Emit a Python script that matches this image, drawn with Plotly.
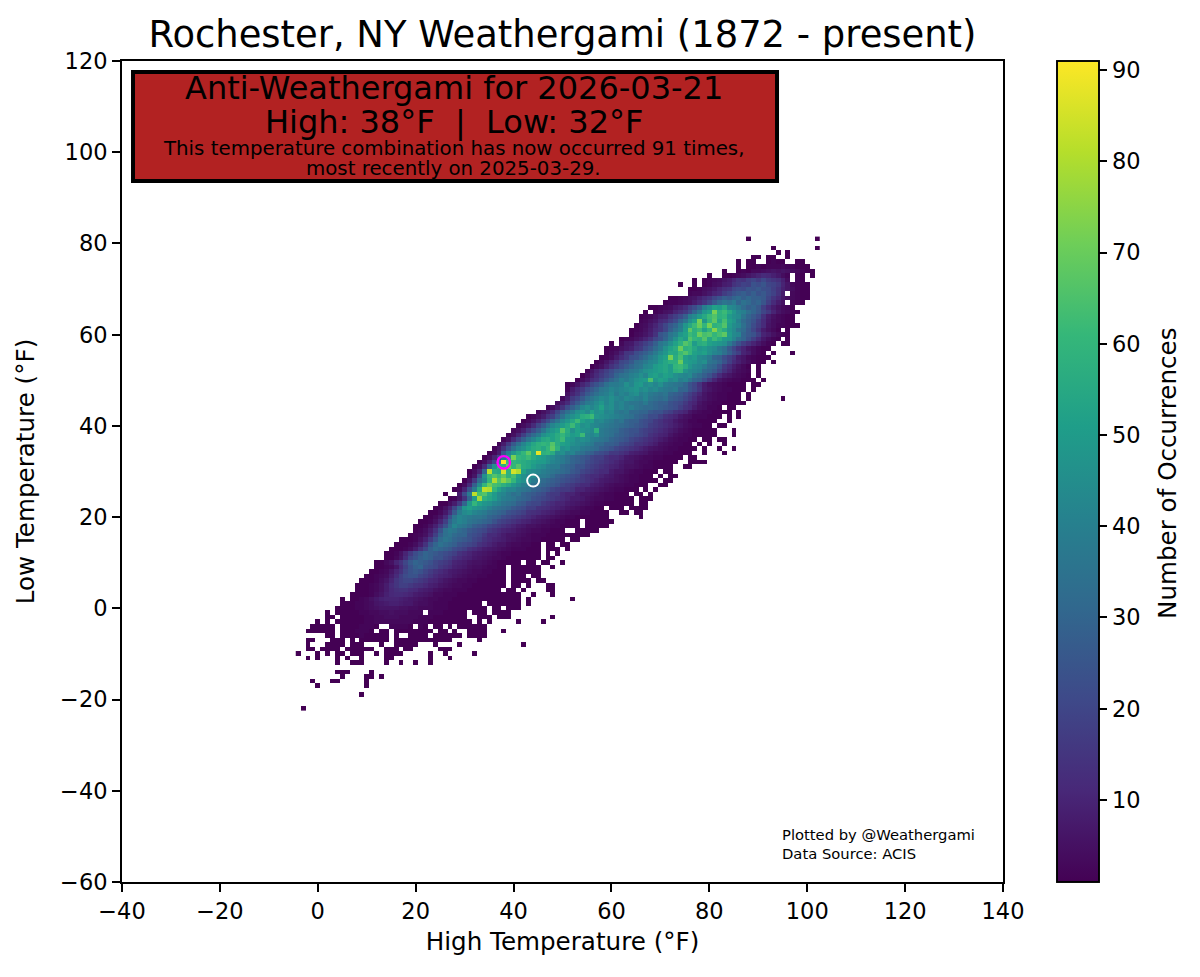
import plotly.graph_objects as go

TITLE = "Rochester, NY Weathergami (1872 - present)"
BOX_LINES = ["Anti-Weathergami for 2026-03-21", "High: 38°F  |  Low: 32°F"]
BOX_NOTE = ["This temperature combination has now occurred 91 times,", "most recently on 2025-03-29."]
CREDIT = "Plotted by @Weathergami<br>Data Source: ACIS"

# today's pair and the other marked pair
anti_high, anti_low = [38], [32]
other_high, other_low = [44], [28]

cbar_ticks = [10, 20, 30, 40, 50, 60, 70, 80, 90]
x_ticks = list(range(-40, 141, 20))
y_ticks = list(range(-60, 121, 20))
x_labels = [str(t).replace("-", "\u2212") for t in x_ticks]
y_labels = [str(t).replace("-", "\u2212") for t in y_ticks]

# low temperature of each row, top row first
lows = list(range(81, -23, -1))
# high temperature of the first cell in each row
first_high = [
    88, 88, 93, 94, 89, 86, 86, 83, 80, 77, 74, 76, 76, 72, 71, 68, 67, 66, 66, 65, 64, 64, 62, 60, 59, 59,
    58, 57, 56, 55, 54, 53, 51, 51, 51, 50, 49, 47, 45, 43, 42, 41, 40, 39, 38, 37, 36, 35, 34, 33, 32, 31,
    30, 29, 28, 27, 26, 27, 25, 24, 23, 22, 21, 20, 20, 19, 17, 16, 15, 14, 14, 12, 12, 11, 10, 9, 8, 8,
    7, 5, 5, 4, 2, 2, 0, -1, -2, 2, -2, -2, -2, -4, -2, 4, 0, 4, 5, -1, 0, 0, 9, 0, 0, -3,
]
# occurrences per cell, 0 where the pair never happened
counts = [
    [1, 0, 0, 0, 0, 0, 0, 0, 0, 0, 0, 0, 0, 0, 1],
    [],
    [1, 0, 0, 0, 0, 0, 0, 0, 0, 1],
    [1, 0, 1],
    [1, 1, 0, 1, 1, 0, 0, 1],
    [1, 0, 1, 1, 0, 0, 1, 2, 1, 1, 0, 0, 1, 1],
    [1, 0, 1, 1, 2, 1, 2, 2, 2, 3, 2, 2, 1, 1, 1],
    [1, 0, 0, 1, 2, 1, 3, 3, 4, 5, 6, 5, 6, 5, 4, 3, 2, 1, 1],
    [1, 0, 0, 1, 1, 2, 3, 4, 6, 8, 10, 12, 11, 9, 7, 4, 2, 0, 2, 1, 0, 1],
    [1, 0, 1, 2, 3, 4, 6, 8, 11, 15, 14, 18, 20, 17, 21, 17, 15, 13, 9, 4, 0, 2, 1],
    [1, 0, 0, 1, 0, 1, 2, 4, 5, 8, 9, 14, 16, 19, 18, 24, 22, 25, 20, 19, 16, 10, 6, 3, 2, 1, 1],
    [1, 1, 2, 4, 5, 7, 10, 13, 15, 20, 22, 21, 25, 24, 26, 23, 22, 18, 14, 9, 6, 4, 2, 1, 1],
    [2, 3, 3, 5, 7, 10, 12, 17, 20, 24, 26, 28, 25, 28, 24, 26, 22, 19, 14, 8, 0, 3, 2, 1, 1],
    [1, 1, 2, 3, 5, 6, 9, 12, 15, 20, 24, 28, 26, 30, 32, 28, 31, 28, 28, 26, 20, 15, 11, 7, 4, 3, 2, 1, 1],
    [1, 2, 2, 3, 4, 5, 8, 11, 15, 20, 26, 32, 36, 34, 38, 30, 35, 32, 28, 30, 25, 18, 12, 8, 5, 0, 2, 1, 1],
    [1, 1, 2, 3, 4, 7, 9, 12, 18, 22, 28, 40, 45, 52, 50, 55, 44, 42, 38, 32, 28, 30, 26, 18, 12, 8, 5, 3, 2, 1],
    [1, 0, 2, 3, 5, 6, 10, 13, 16, 22, 30, 38, 48, 52, 72, 58, 62, 55, 48, 42, 40, 34, 30, 26, 20, 16, 10, 6, 4, 3, 2, 1],
    [1, 2, 3, 5, 8, 9, 14, 18, 22, 28, 40, 44, 50, 55, 62, 66, 58, 60, 50, 46, 44, 36, 30, 26, 22, 14, 8, 5, 3, 2, 1, 1],
    [2, 3, 5, 7, 11, 13, 18, 22, 30, 36, 46, 52, 72, 48, 60, 68, 54, 64, 52, 48, 40, 32, 28, 24, 18, 12, 7, 4, 3, 2, 1, 1],
    [1, 3, 4, 7, 10, 15, 20, 26, 30, 38, 48, 55, 62, 70, 60, 72, 58, 60, 66, 50, 45, 42, 34, 28, 22, 17, 12, 6, 4, 2, 2, 1, 1, 1],
    [1, 2, 3, 5, 8, 12, 15, 20, 28, 34, 40, 50, 68, 58, 62, 52, 60, 74, 62, 56, 48, 44, 36, 32, 26, 20, 14, 8, 5, 3, 1, 0, 1],
    [1, 3, 4, 6, 9, 14, 25, 28, 36, 40, 48, 52, 62, 58, 70, 64, 66, 60, 64, 68, 50, 44, 42, 30, 26, 24, 18, 10, 8, 5, 3, 2, 1],
    [1, 2, 3, 5, 7, 10, 14, 20, 24, 30, 38, 46, 54, 50, 66, 60, 58, 66, 54, 62, 56, 50, 48, 42, 34, 30, 24, 18, 12, 7, 4, 2, 1, 0, 1],
    [1, 0, 3, 6, 7, 11, 14, 18, 22, 28, 36, 40, 46, 52, 58, 66, 62, 50, 56, 58, 52, 50, 48, 46, 38, 30, 24, 18, 14, 10, 7, 4, 2, 1, 0, 1, 1],
    [1, 2, 3, 5, 7, 9, 14, 16, 22, 26, 32, 38, 46, 52, 56, 70, 58, 60, 54, 48, 50, 46, 44, 38, 34, 26, 20, 14, 10, 6, 4, 2, 1, 1],
    [1, 3, 5, 9, 15, 16, 22, 25, 28, 32, 38, 44, 48, 55, 54, 62, 66, 60, 52, 50, 52, 46, 42, 40, 34, 28, 22, 18, 10, 8, 4, 2, 1, 0, 1, 0, 0, 0, 1],
    [1, 2, 4, 8, 12, 16, 22, 24, 28, 32, 38, 42, 48, 52, 72, 56, 64, 52, 48, 50, 44, 42, 38, 30, 28, 22, 18, 14, 8, 6, 3, 2, 1, 1, 1],
    [1, 3, 6, 10, 14, 20, 22, 26, 32, 34, 38, 42, 44, 50, 54, 58, 58, 70, 52, 50, 48, 44, 46, 36, 34, 30, 24, 18, 12, 9, 6, 4, 2, 1, 1, 0, 1],
    [1, 3, 5, 9, 14, 18, 22, 26, 30, 34, 36, 42, 44, 50, 52, 54, 50, 60, 62, 56, 48, 44, 42, 38, 32, 30, 24, 16, 12, 8, 5, 3, 1, 0, 1],
    [2, 6, 10, 14, 18, 22, 26, 28, 32, 36, 38, 42, 46, 48, 50, 52, 54, 50, 58, 60, 48, 44, 42, 40, 32, 30, 26, 20, 14, 10, 6, 4, 3, 2, 0, 1],
    [1, 4, 8, 12, 16, 20, 24, 30, 34, 36, 40, 42, 46, 42, 50, 52, 48, 52, 50, 46, 44, 42, 44, 36, 32, 28, 24, 18, 12, 8, 6, 4, 3, 2, 1, 0, 1],
    [1, 4, 7, 12, 15, 20, 25, 30, 34, 40, 38, 42, 46, 48, 50, 65, 48, 52, 50, 44, 46, 40, 42, 36, 30, 28, 22, 16, 10, 6, 4, 3, 2, 2, 1, 1, 1, 0, 1],
    [1, 3, 6, 10, 14, 20, 24, 28, 34, 38, 38, 40, 46, 42, 48, 50, 44, 46, 42, 46, 40, 38, 36, 34, 30, 24, 20, 14, 8, 5, 4, 3, 2, 1, 1, 1, 1, 0, 1, 1],
    [2, 8, 12, 16, 22, 26, 30, 36, 38, 42, 40, 42, 44, 46, 48, 44, 46, 42, 44, 40, 38, 36, 38, 30, 30, 24, 20, 15, 8, 6, 4, 3, 2, 2, 1, 1, 1, 0, 1],
    [5, 10, 14, 20, 26, 30, 34, 38, 40, 44, 38, 42, 40, 44, 46, 40, 42, 38, 36, 34, 36, 30, 28, 26, 22, 18, 14, 10, 6, 4, 3, 2, 2, 1, 1, 1, 0, 1],
    [3, 8, 16, 20, 26, 32, 36, 40, 44, 42, 46, 42, 40, 44, 42, 40, 38, 42, 36, 34, 32, 34, 28, 26, 24, 20, 16, 12, 8, 6, 4, 3, 2, 2, 1, 1, 1, 0, 1, 0, 0, 0, 0, 0, 0, 1],
    [4, 8, 12, 20, 26, 32, 38, 40, 44, 48, 42, 46, 40, 42, 38, 36, 36, 34, 38, 32, 30, 28, 28, 24, 22, 20, 16, 12, 10, 6, 4, 3, 2, 2, 1, 1, 1, 1, 1],
    [2, 4, 8, 14, 22, 28, 34, 42, 46, 42, 46, 52, 44, 46, 40, 42, 38, 40, 36, 34, 32, 32, 30, 28, 26, 24, 22, 18, 14, 12, 8, 5, 4, 2, 2, 1, 0, 1, 1],
    [2, 5, 8, 12, 20, 28, 34, 40, 46, 48, 44, 52, 46, 48, 42, 44, 38, 36, 38, 32, 32, 30, 30, 26, 24, 24, 20, 18, 14, 12, 10, 6, 4, 3, 2, 2, 1, 1, 1, 1, 0, 1],
    [1, 3, 5, 8, 14, 18, 26, 34, 42, 46, 50, 56, 58, 62, 48, 46, 44, 42, 40, 38, 36, 34, 30, 28, 26, 22, 22, 18, 14, 12, 10, 7, 5, 4, 2, 2, 2, 1, 1, 1, 0, 1, 0, 1],
    [1, 3, 6, 10, 16, 22, 30, 36, 44, 48, 54, 62, 52, 48, 50, 42, 44, 40, 38, 34, 36, 30, 28, 28, 24, 22, 20, 16, 14, 11, 10, 7, 5, 4, 2, 2, 1, 1, 1, 1, 0, 0, 1],
    [2, 4, 7, 12, 20, 26, 34, 42, 46, 50, 54, 62, 52, 46, 48, 44, 42, 40, 38, 36, 34, 32, 30, 28, 26, 24, 22, 18, 16, 14, 12, 10, 8, 6, 4, 3, 2, 2, 1, 1, 0, 1, 1],
    [3, 5, 9, 16, 22, 28, 36, 44, 48, 52, 66, 56, 46, 52, 48, 46, 44, 58, 38, 36, 34, 32, 28, 26, 24, 24, 20, 18, 16, 14, 12, 10, 8, 6, 4, 3, 2, 1, 1, 1, 1, 1, 0, 0, 0, 1],
    [2, 5, 10, 18, 26, 32, 38, 46, 50, 52, 56, 60, 54, 50, 52, 62, 44, 42, 46, 38, 36, 34, 30, 28, 26, 24, 22, 20, 18, 14, 12, 10, 9, 6, 4, 3, 2, 2, 1, 1, 1, 1, 1, 0, 0, 0, 1],
    [2, 5, 12, 20, 28, 36, 42, 48, 54, 56, 52, 56, 62, 50, 48, 44, 46, 44, 40, 38, 36, 34, 30, 28, 26, 24, 20, 18, 16, 14, 12, 10, 8, 6, 4, 3, 2, 2, 1, 1, 0, 1, 1, 0, 1, 1],
    [3, 8, 16, 26, 34, 42, 48, 54, 58, 60, 58, 66, 56, 52, 50, 46, 44, 42, 40, 38, 32, 32, 28, 28, 26, 22, 20, 18, 14, 14, 12, 10, 8, 5, 4, 3, 2, 2, 1, 1, 0, 1, 0, 1, 0, 0, 1],
    [2, 6, 14, 24, 34, 42, 46, 52, 56, 58, 54, 60, 68, 58, 46, 48, 42, 42, 38, 36, 34, 32, 28, 26, 24, 20, 18, 16, 14, 12, 10, 8, 6, 5, 4, 3, 2, 2, 1, 1, 1, 1, 0, 1, 0, 0, 1, 0, 0, 1],
    [1, 3, 8, 26, 40, 48, 54, 60, 68, 56, 88, 58, 60, 56, 44, 46, 40, 42, 36, 34, 30, 28, 24, 22, 20, 16, 16, 14, 12, 9, 8, 7, 6, 4, 3, 3, 2, 2, 1, 1, 1, 1, 0, 0, 1, 0, 0, 0, 1],
    [1, 4, 10, 20, 36, 50, 72, 60, 58, 62, 56, 52, 50, 46, 44, 40, 38, 34, 30, 28, 26, 24, 20, 18, 18, 14, 12, 12, 10, 7, 6, 5, 4, 3, 3, 2, 2, 1, 1, 1, 1, 0, 1, 1],
    [1, 4, 10, 20, 40, 91, 62, 60, 58, 56, 54, 52, 50, 50, 46, 42, 40, 38, 34, 30, 28, 26, 22, 20, 18, 16, 14, 12, 10, 8, 6, 6, 4, 3, 3, 2, 1, 1, 1, 1, 1, 0, 0, 1, 1, 1, 1],
    [1, 4, 12, 30, 46, 60, 58, 70, 60, 66, 56, 54, 50, 46, 44, 40, 38, 38, 32, 30, 28, 24, 24, 20, 18, 16, 14, 12, 10, 9, 7, 5, 5, 4, 3, 2, 2, 1, 1, 1, 1, 0, 0, 1, 1],
    [1, 4, 10, 30, 82, 56, 54, 85, 58, 85, 80, 52, 46, 44, 42, 40, 38, 36, 34, 32, 30, 26, 24, 20, 18, 16, 14, 12, 12, 8, 6, 6, 4, 3, 2, 2, 1, 1, 1, 0, 1, 1],
    [0, 2, 6, 22, 46, 62, 66, 62, 68, 58, 64, 52, 46, 42, 44, 38, 38, 36, 32, 28, 26, 24, 22, 20, 16, 14, 12, 12, 10, 8, 7, 5, 4, 3, 2, 2, 1, 1, 1, 0, 1, 0, 1, 1],
    [0, 1, 6, 16, 32, 42, 60, 80, 66, 75, 68, 60, 50, 46, 44, 38, 36, 32, 30, 28, 26, 24, 22, 20, 18, 16, 14, 12, 10, 8, 7, 6, 5, 4, 3, 2, 2, 1, 1, 1, 1, 0, 1, 1],
    [0, 1, 4, 12, 28, 44, 60, 70, 64, 62, 58, 54, 48, 44, 40, 38, 34, 32, 30, 28, 26, 24, 20, 18, 16, 14, 12, 12, 9, 8, 7, 5, 4, 3, 3, 2, 2, 1, 1, 1, 0, 0, 1, 1],
    [0, 1, 3, 10, 24, 38, 56, 82, 80, 60, 52, 46, 42, 42, 38, 36, 34, 30, 28, 26, 24, 20, 18, 16, 16, 14, 10, 10, 8, 7, 6, 5, 4, 3, 2, 2, 1, 1, 1, 0, 1, 0, 1],
    [1, 0, 0, 8, 22, 38, 82, 64, 66, 56, 50, 44, 42, 38, 34, 36, 30, 28, 26, 24, 22, 18, 16, 16, 12, 10, 10, 8, 6, 6, 5, 4, 3, 2, 2, 1, 1, 1, 0, 1, 1, 0, 1],
    [1, 2, 6, 14, 30, 50, 78, 58, 54, 50, 44, 40, 38, 36, 32, 30, 28, 24, 22, 20, 18, 16, 14, 12, 10, 8, 8, 7, 5, 4, 3, 3, 2, 2, 1, 1, 1, 1, 0, 1, 1, 1],
    [1, 1, 4, 8, 16, 30, 48, 60, 52, 48, 46, 42, 40, 36, 34, 32, 28, 26, 22, 20, 20, 16, 14, 12, 10, 10, 8, 7, 6, 5, 4, 3, 2, 2, 1, 1, 1, 1, 1, 1, 0, 1, 1],
    [1, 2, 5, 10, 20, 32, 48, 52, 48, 46, 44, 40, 36, 34, 32, 30, 26, 24, 22, 18, 18, 14, 13, 12, 10, 9, 8, 6, 5, 4, 3, 2, 2, 1, 1, 0, 1, 1, 1, 0, 1, 1, 1, 1],
    [1, 1, 3, 7, 14, 26, 38, 44, 46, 42, 40, 38, 34, 32, 30, 28, 24, 22, 20, 18, 14, 13, 12, 10, 9, 8, 6, 5, 4, 3, 3, 2, 2, 1, 1, 1, 1, 0, 0, 1, 1, 0, 1, 1],
    [1, 1, 3, 6, 12, 24, 36, 42, 40, 38, 36, 36, 34, 30, 28, 26, 22, 20, 18, 16, 14, 12, 10, 8, 7, 6, 5, 4, 3, 2, 2, 1, 1, 1, 1, 1, 1, 1, 0, 0, 0, 0, 0, 0, 1],
    [1, 1, 2, 5, 10, 18, 30, 38, 42, 40, 36, 34, 32, 30, 28, 24, 20, 18, 16, 14, 12, 10, 9, 7, 6, 5, 4, 3, 2, 2, 1, 1, 1, 0, 1, 1, 1, 1, 1, 1],
    [1, 1, 2, 5, 9, 16, 24, 34, 42, 38, 36, 32, 28, 26, 24, 20, 18, 16, 14, 12, 10, 8, 7, 5, 5, 4, 3, 3, 2, 2, 1, 1, 1, 1, 0, 1, 1, 1, 1, 1],
    [1, 2, 4, 8, 14, 24, 34, 38, 36, 32, 30, 26, 24, 22, 20, 16, 14, 12, 10, 9, 8, 6, 5, 4, 3, 3, 2, 2, 1, 1, 1, 0, 0, 1, 1, 1, 1, 1],
    [1, 2, 3, 5, 10, 18, 28, 34, 36, 32, 30, 30, 24, 22, 20, 16, 12, 12, 10, 8, 6, 6, 5, 4, 3, 2, 2, 2, 1, 1, 1, 1, 1, 1, 1, 1, 1],
    [1, 1, 1, 2, 5, 9, 16, 24, 32, 36, 34, 30, 28, 26, 24, 20, 18, 14, 12, 10, 9, 8, 6, 5, 4, 3, 3, 2, 2, 1, 1, 1, 1, 1, 0, 1, 1],
    [1, 1, 1, 2, 4, 8, 14, 24, 30, 35, 32, 30, 28, 24, 22, 20, 18, 14, 12, 10, 8, 6, 6, 4, 3, 3, 2, 2, 1, 1, 0, 1, 1, 0, 1, 1],
    [1, 1, 1, 2, 4, 8, 14, 20, 28, 32, 30, 28, 26, 22, 20, 18, 14, 12, 10, 8, 7, 6, 5, 4, 3, 2, 2, 2, 1, 1, 1, 0, 1, 1, 1, 0, 1],
    [1, 1, 2, 5, 10, 16, 22, 26, 30, 28, 26, 24, 22, 20, 18, 14, 12, 10, 8, 7, 6, 5, 4, 3, 2, 2, 1, 1, 1, 1, 1, 1, 0, 1, 0, 1],
    [1, 1, 3, 6, 12, 20, 24, 28, 30, 28, 24, 24, 20, 18, 14, 12, 10, 9, 7, 6, 5, 4, 3, 3, 2, 1, 1, 1, 1, 1, 1, 1, 0, 1, 1],
    [1, 1, 3, 5, 10, 14, 20, 26, 30, 28, 26, 24, 20, 18, 16, 14, 10, 9, 8, 6, 5, 5, 4, 3, 2, 1, 1, 1, 1, 1, 0, 1, 1, 0, 1, 1, 0, 0, 1],
    [1, 1, 2, 3, 6, 12, 18, 24, 28, 30, 24, 22, 20, 16, 14, 12, 9, 8, 7, 5, 4, 4, 3, 2, 2, 1, 1, 0, 1, 1, 1, 1, 1, 1, 0, 0, 1],
    [1, 1, 2, 3, 6, 10, 14, 20, 24, 26, 24, 20, 17, 14, 12, 10, 8, 7, 6, 5, 4, 3, 3, 2, 2, 1, 1, 1, 0, 1, 1, 1, 1, 1, 1],
    [1, 1, 2, 3, 4, 8, 12, 18, 22, 24, 24, 20, 18, 15, 12, 10, 9, 8, 6, 5, 4, 3, 3, 2, 2, 1, 1, 1, 1, 0, 1, 1, 1, 0, 1, 1],
    [1, 1, 1, 2, 4, 6, 10, 15, 18, 20, 20, 18, 16, 14, 11, 10, 8, 6, 5, 4, 3, 3, 2, 2, 1, 1, 1, 1, 1, 1, 0, 1, 1, 1, 1, 0, 1, 1],
    [1, 1, 1, 2, 3, 5, 8, 12, 15, 18, 18, 16, 14, 13, 11, 9, 8, 6, 5, 4, 3, 3, 2, 2, 1, 1, 1, 1, 1, 1, 1, 0, 1, 1, 0, 1, 0, 0, 0, 1, 1],
    [1, 1, 1, 2, 3, 5, 8, 11, 13, 14, 14, 12, 11, 9, 8, 7, 5, 4, 3, 3, 2, 2, 2, 1, 1, 1, 1, 1, 1, 1, 0, 1, 1, 0, 1, 0, 0, 0, 0, 1, 1],
    [1, 1, 1, 1, 2, 4, 6, 9, 11, 12, 12, 11, 10, 8, 7, 6, 5, 3, 3, 2, 2, 2, 1, 1, 1, 1, 1, 1, 1, 1, 1, 1, 1, 1, 1, 0, 0, 1, 0, 0, 0, 1],
    [1, 0, 1, 1, 2, 3, 5, 7, 9, 10, 10, 10, 9, 8, 7, 6, 5, 4, 3, 3, 2, 2, 2, 1, 1, 1, 1, 1, 1, 1, 1, 1, 1, 1, 1, 1, 1, 0, 1, 0, 0, 0, 0, 0, 0, 0, 0, 1],
    [1, 1, 1, 2, 2, 3, 4, 6, 7, 8, 9, 9, 8, 7, 7, 5, 4, 4, 3, 2, 2, 2, 1, 1, 1, 1, 1, 1, 1, 0, 1, 1, 1, 1, 1, 1, 1, 0, 1],
    [1, 1, 1, 1, 2, 2, 3, 4, 5, 6, 6, 6, 6, 5, 5, 4, 4, 3, 3, 3, 2, 2, 2, 1, 1, 1, 1, 1, 1, 1, 1, 0, 1, 1, 0, 1, 1, 1],
    [1, 0, 1, 1, 1, 1, 1, 2, 2, 3, 3, 4, 4, 5, 4, 4, 4, 3, 3, 3, 0, 2, 2, 2, 1, 1, 1, 1, 1, 0, 1, 1, 1, 0, 1, 1, 1, 1],
    [1, 1, 0, 1, 1, 1, 1, 1, 2, 2, 3, 3, 4, 4, 4, 3, 3, 3, 3, 2, 2, 2, 1, 1, 1, 1, 1, 1, 1, 0, 0, 1, 1, 1, 0, 1, 1, 1, 0, 0, 0, 0, 0, 0, 0, 0, 1],
    [1, 0, 1, 0, 1, 1, 1, 1, 1, 1, 2, 2, 3, 3, 3, 3, 3, 3, 3, 3, 2, 2, 2, 1, 1, 1, 1, 1, 1, 1, 1, 1, 0, 1, 0, 1, 0, 0, 0, 0, 0, 1, 0, 0, 0, 0, 1],
    [1, 1, 1, 1, 1, 0, 1, 1, 1, 1, 2, 2, 2, 1, 0, 0, 2, 2, 2, 2, 1, 0, 2, 1, 0, 1, 1, 0, 1, 0, 1, 1, 1, 1, 1, 1],
    [1, 1, 1, 1, 1, 1, 0, 1, 1, 1, 2, 2, 2, 1, 0, 1, 1, 0, 1, 1, 1, 1, 1, 1, 1, 1, 0, 1, 1, 0, 1, 0, 0, 1, 1, 1, 1, 0, 0, 0, 1],
    [1, 1, 0, 1, 1, 1, 1, 2, 1, 1, 1, 1, 1, 0, 1, 0, 0, 1, 1, 1, 1, 0, 1, 1, 1, 1, 1, 1, 0, 1, 1, 1, 1],
    [1, 1, 0, 0, 0, 1, 1, 1, 0, 1, 0, 1, 1, 1, 1, 1, 1, 0, 1, 1, 1, 1, 1, 1, 1, 1, 1, 1, 1, 1, 0, 0, 0, 0, 0, 1],
    [1, 0, 0, 0, 1, 1, 1, 1, 0, 1, 1, 1, 0, 0, 0, 1, 0, 0, 1, 1, 1, 1, 1, 0, 0, 0, 1, 0, 0, 0, 0, 1, 0, 0, 0, 0, 0, 0, 0, 0, 0, 0, 0, 0, 1],
    [1, 1, 0, 1, 1, 1, 1, 0, 1, 1, 1, 1, 1, 1, 0, 0, 1, 1, 1, 0, 1, 1, 0, 0, 0, 0, 0, 1, 1, 1],
    [1, 0, 0, 0, 1, 0, 1, 0, 1, 1, 0, 1, 1, 1, 0, 0, 1, 0, 1, 1, 1, 1, 0, 0, 0, 0, 0, 1, 0, 0, 1, 0, 0, 0, 0, 0, 1],
    [1, 0, 1, 0, 0, 0, 1, 0, 1, 0, 0, 1, 0, 0, 0, 0, 1, 1, 0, 0, 0, 0, 0, 0, 0, 1, 0, 0, 0, 1],
    [1, 0, 0, 1, 1, 1, 0, 0, 0, 0, 1, 0, 0, 1, 0, 0, 1, 0, 0, 1],
    [],
    [1, 1, 1, 0, 0, 0, 0, 1],
    [1, 0, 0, 0, 0, 1, 1, 0, 1],
    [1, 0, 0, 0, 1, 1, 0, 0, 0, 0, 0, 1],
    [1, 0, 0, 0, 0, 0, 0, 0, 0, 0, 1],
    [],
    [1],
    [],
    [],
    [1],
]

highs = list(range(-4, 103))
grid = []
for start, row in zip(first_high, counts):
    cells = [None] * len(highs)
    for i, n in enumerate(row):
        if n > 0:
            cells[start + i - highs[0]] = n
    grid.append(cells)

TICK_SIZE = 22.5
LABEL_SIZE = 24.6

fig = go.Figure()
fig.add_trace(
    go.Heatmap(
        x=highs,
        y=lows,
        z=grid,
        zmin=1,
        zmax=91,
        colorscale="Viridis",
        hoverongaps=False,
        colorbar=dict(
            tickvals=cbar_ticks,
            ticks="outside",
            ticklen=8,
            tickwidth=1.9,
            tickcolor="black",
            tickfont=dict(size=TICK_SIZE, color="black"),
            thickness=42,
            len=1,
            lenmode="fraction",
            x=1.0613,
            xanchor="left",
            y=0.5,
            yanchor="middle",
            xpad=0,
            ypad=0,
            outlinecolor="black",
            outlinewidth=1.9,
        ),
    )
)
fig.add_trace(
    go.Scatter(
        x=other_high,
        y=other_low,
        mode="markers",
        marker=dict(symbol="circle", size=12, color="rgba(0,0,0,0)", line=dict(color="white", width=2)),
        showlegend=False,
    )
)
fig.add_trace(
    go.Scatter(
        x=anti_high,
        y=anti_low,
        mode="markers",
        marker=dict(symbol="circle", size=12.5, color="rgba(0,0,0,0)", line=dict(color="magenta", width=2.4)),
        showlegend=False,
    )
)

axis_style = dict(
    showgrid=False,
    zeroline=False,
    showline=True,
    linecolor="black",
    linewidth=1.9,
    mirror=True,
    ticks="outside",
    ticklen=8,
    tickwidth=1.9,
    tickcolor="black",
    tickfont=dict(size=TICK_SIZE, color="black"),
)
fig.update_xaxes(
    range=[-40, 140], tickvals=x_ticks, ticktext=x_labels,
    title=dict(text="High Temperature (°F)", font=dict(size=LABEL_SIZE, color="black"), standoff=10),
    **axis_style,
)
fig.update_yaxes(
    range=[-60, 120], tickvals=y_ticks, ticktext=y_labels,
    title=dict(text="Low Temperature (°F)", font=dict(size=LABEL_SIZE, color="black"), standoff=18),
    **axis_style,
)

fig.add_shape(
    type="rect", xref="paper", yref="paper",
    x0=0.0125, x1=0.7435, y0=0.8538, y1=0.9866,
    fillcolor="#b22222", line=dict(color="black", width=4),
)
big_y = [0.967, 0.9257]
for text, y in zip(BOX_LINES, big_y):
    fig.add_annotation(
        text=text, xref="paper", yref="paper", x=0.3768, y=y, showarrow=False,
        xanchor="center", yanchor="middle", font=dict(size=32, color="black"),
    )
small_y = [0.894, 0.8685]
for text, y in zip(BOX_NOTE, small_y):
    fig.add_annotation(
        text=text, xref="paper", yref="paper", x=0.3768, y=y, showarrow=False,
        xanchor="center", yanchor="middle", font=dict(size=19.8, color="black"),
    )
fig.add_annotation(
    text=CREDIT, xref="paper", yref="paper", x=0.7468, y=0.0457, showarrow=False,
    xanchor="left", yanchor="middle", align="left", font=dict(size=14.75, color="black"),
)
# colorbar title sits further out than plotly would place it
fig.add_annotation(
    text="Number of Occurrences", xref="paper", yref="paper", x=1.186, y=0.498, showarrow=False,
    xanchor="center", yanchor="middle", textangle=-90, font=dict(size=LABEL_SIZE, color="black"),
)

# the page adds an 8 px body margin, so the figure is 16 px smaller than the window
fig.update_layout(
    title=dict(text=TITLE, x=0.4683, xanchor="center", y=0.973, yanchor="middle", font=dict(size=36.9, color="black")),
    width=1184,
    height=961,
    margin=dict(l=114, r=189, t=53, b=87),
    paper_bgcolor="white",
    plot_bgcolor="white",
    font=dict(family="DejaVu Sans", color="black"),
)

fig.write_html("out.html")
